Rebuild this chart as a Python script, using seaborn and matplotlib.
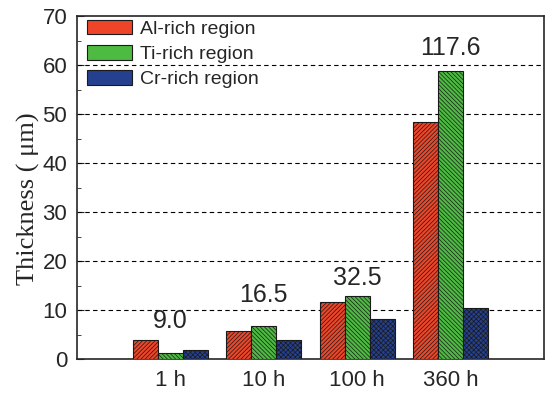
import numpy as np
import matplotlib.pyplot as plt
import pandas as pd
import seaborn as sns

# oxide layer thickness per region after exposure time
times = ['1 h', '10 h', '100 h', '360 h']
al_rich = [3.9, 5.8, 11.6, 48.3]
ti_rich = [1.2, 6.7, 12.8, 58.8]
cr_rich = [1.9, 3.9, 8.1, 10.4]
totals = ['9.0', '16.5', '32.5', '117.6']
regions = ['Al-rich region', 'Ti-rich region', 'Cr-rich region']

df = pd.DataFrame({
    'time': times * 3,
    'region': np.repeat(regions, len(times)),
    'thickness': al_rich + ti_rich + cr_rich,
})

sns.set_style('ticks')
plt.rcParams['font.family'] = ['Liberation Sans', 'DejaVu Sans']
plt.rcParams['hatch.linewidth'] = 0.5

colors = ['#EE4528', '#4DBB42', '#25408E']
hatches = ['////////', '\\\\\\\\\\\\\\\\', 'xxxxxxx']

fig = plt.figure(figsize=(5.5, 3.93), dpi=100)
ax = fig.add_axes([0.14, 0.0865, 0.849, 0.8725])

sns.barplot(data=df, x='time', y='thickness', hue='region',
            palette=colors, saturation=1, width=0.8, edgecolor='#1a1a1a',
            linewidth=0.8, ax=ax, zorder=3)

for cont, h in zip(ax.containers, hatches):
    for bar in cont:
        bar.set_hatch(h)

# sum labels above each group
label_y = [5.3, 10.6, 14.1, 61.0]
for i, t in enumerate(totals):
    ax.text(i, label_y[i], t, ha='center', va='bottom', fontsize=18)

ax.set_xlim(-1, 4)
ax.set_ylim(0, 70)
ax.set_yticks(np.arange(0, 71, 10))
ax.set_yticks(np.arange(0, 71, 5), minor=True)
for yv in range(10, 70, 10):
    ax.axhline(yv, color='black', linestyle=(0, (4, 3)), linewidth=0.8, zorder=1)

ax.tick_params(axis='y', which='major', direction='in', length=5, labelsize=16,
               pad=7, right=False)
ax.tick_params(axis='y', which='minor', direction='in', length=3, right=False)
ax.tick_params(axis='x', length=0, labelsize=16, pad=8)
for s in ax.spines.values():
    s.set_visible(True)
    s.set_linewidth(1.2)

ax.set_xlabel('')
ax.set_ylabel('Thickness ( μm)', fontsize=19, family='Liberation Serif')
ax.yaxis.set_label_coords(-0.08, 0.469)

leg = ax.legend(loc='upper left', frameon=False, fontsize=14,
                handlelength=2.3, handleheight=0.8, handletextpad=0.4,
                labelspacing=0.36, borderaxespad=0.0, borderpad=0.0,
                bbox_to_anchor=(0.022, 0.99))

fig.savefig('out.png', dpi=100)
